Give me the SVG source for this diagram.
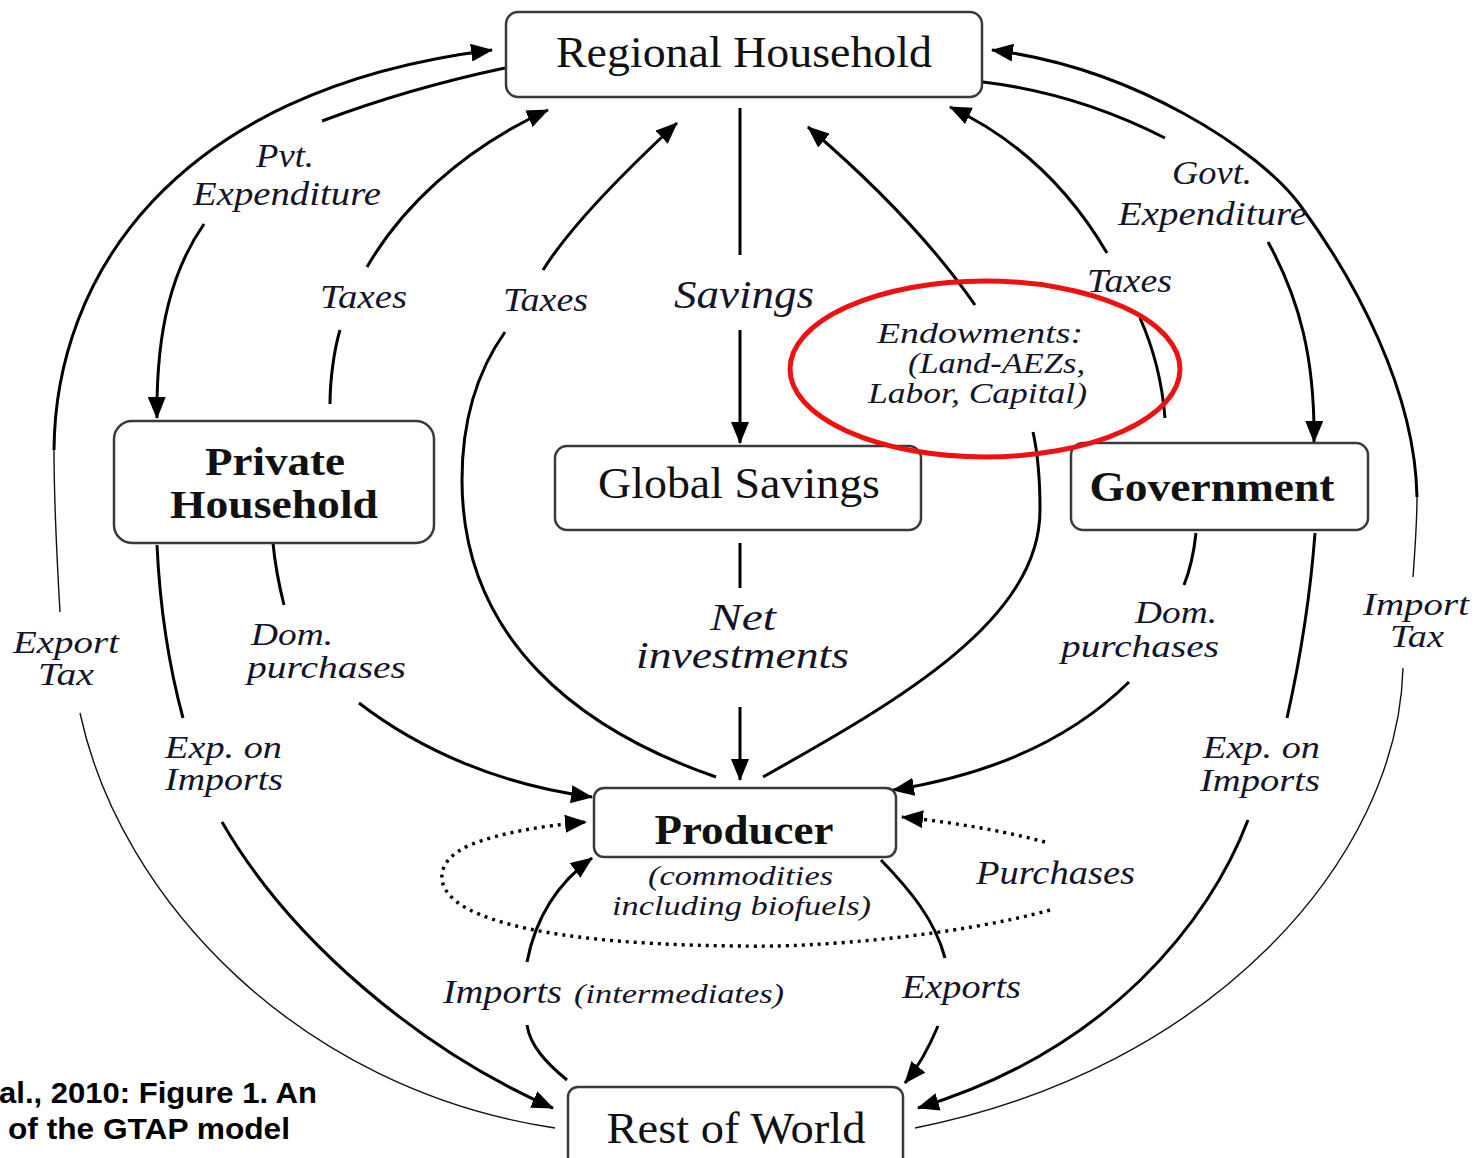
<svg xmlns="http://www.w3.org/2000/svg" width="1477" height="1158" viewBox="0 0 1477 1158">
<style>
.box{fill:#fff;stroke:#3a3a3a;stroke-width:2.5}
.nt{font-family:"Liberation Serif",serif;fill:#111;text-anchor:middle}
.b{font-weight:bold}
.lb{font-family:"Liberation Serif",serif;font-style:italic;fill:#15152a}
.c{fill:none;stroke:#000;stroke-width:3}
.t{fill:none;stroke:#111;stroke-width:1.4}
.d{fill:none;stroke:#000;stroke-width:3.4;stroke-dasharray:3 5}
.cap{font-family:"Liberation Sans",Arial,sans-serif;font-weight:bold;font-size:30px;fill:#000}
</style>
<defs>
<marker id="ah" markerUnits="userSpaceOnUse" markerWidth="22" markerHeight="18" refX="21" refY="9" orient="auto">
<path d="M0,0 L22,9 L0,18 Z" fill="#000"/>
</marker>
</defs>
<rect width="1477" height="1158" fill="#fff"/>

<g id="connectors">
<!-- outer left: Export Tax -->
<path class="t" d="M555 1128 C300 1090,120 900,80 713"/>
<path class="t" d="M60 612 C57 560,54 500,54 450"/>
<path class="c" d="M54 450 C55 280,170 90,492 50" marker-end="url(#ah)"/>
<!-- outer right: Import Tax -->
<path class="t" d="M915 1128 C1210 1070,1398 860,1403 668"/>
<path class="t" d="M1413 577 C1415 550,1417 520,1417 497"/>
<path class="c" d="M1417 497 C1415 390,1355 280,1300 205 C1260 151,1135 68,992 50" marker-end="url(#ah)"/>
<!-- Pvt. Expenditure -->
<path class="c" d="M505 68 Q410 88 322 121"/>
<path class="c" d="M204 224 C172 270,156 330,157 418" marker-end="url(#ah)"/>
<!-- Taxes from Private Household -->
<path class="c" d="M330 404 C330 380,334 350,340 330"/>
<path class="c" d="M367 267 C400 210,460 150,548 110" marker-end="url(#ah)"/>
<!-- Taxes from Producer -->
<path class="c" d="M716 777 C580 730,462 640,462 480 C462 420,478 370,505 332"/>
<path class="c" d="M543 270 C565 235,610 185,677 123" marker-end="url(#ah)"/>
<!-- Savings -->
<path class="c" d="M740 108 L740 255"/>
<path class="c" d="M740 330 L740 443" marker-end="url(#ah)"/>
<!-- Net investments -->
<path class="c" d="M740 543 L740 588"/>
<path class="c" d="M740 707 L740 780" marker-end="url(#ah)"/>
<!-- Endowments -->
<path class="c" d="M763 777 C900 700,1040 620,1040 510 C1040 470,1037 450,1033 432"/>
<path class="c" d="M975 305 C930 240,870 180,808 127" marker-end="url(#ah)"/>
<!-- Taxes from Government -->
<path class="c" d="M1165 418 C1162 380,1152 345,1140 318"/>
<path class="c" d="M1107 253 C1070 190,1020 140,950 107" marker-end="url(#ah)"/>
<!-- Govt. Expenditure -->
<path class="c" d="M983 82 C1050 90,1110 110,1165 138"/>
<path class="c" d="M1268 242 C1300 300,1315 360,1314 442" marker-end="url(#ah)"/>
<!-- Private HH Dom. purchases -->
<path class="c" d="M273 543 C275 565,279 585,284 605"/>
<path class="c" d="M359 703 C420 750,500 785,592 797" marker-end="url(#ah)"/>
<!-- Private HH Exp. on Imports -->
<path class="c" d="M157 545 C160 610,170 670,183 718"/>
<path class="c" d="M222 822 C290 940,420 1050,553 1108" marker-end="url(#ah)"/>
<!-- Government Dom. purchases -->
<path class="c" d="M1196 533 C1194 552,1190 570,1184 585"/>
<path class="c" d="M1129 682 C1070 740,990 775,893 790" marker-end="url(#ah)"/>
<!-- Government Exp. on Imports -->
<path class="c" d="M1315 533 C1310 600,1300 660,1287 718"/>
<path class="c" d="M1248 820 C1210 920,1110 1050,918 1108" marker-end="url(#ah)"/>
<!-- Exports -->
<path class="c" d="M881 860 C910 890,935 920,945 958"/>
<path class="c" d="M938 1026 C930 1045,920 1065,905 1083" marker-end="url(#ah)"/>
<!-- Imports (intermediates) -->
<path class="c" d="M567 1080 C545 1062,530 1045,527 1025"/>
<path class="c" d="M527 962 C535 920,555 885,592 858" marker-end="url(#ah)"/>
<!-- Purchases (dotted) -->
<path class="d" d="M1050 910 C960 935,820 948,740 946 C620 945,520 935,470 910 C430 890,435 860,470 845 C500 833,540 826,586 822" marker-end="url(#ah)"/>
<path class="d" d="M1045 842 C1000 830,950 822,902 817" marker-end="url(#ah)"/>
</g>

<g id="regional-household">
<rect class="box" x="506" y="12" width="476" height="85" rx="12"/>
<text class="nt" x="744" y="67" font-size="44" textLength="376" lengthAdjust="spacingAndGlyphs">Regional Household</text>
</g>
<g id="private-household">
<rect class="box" x="114" y="421" width="320" height="122" rx="18"/>
<text class="nt b" x="275" y="475" font-size="40" textLength="140" lengthAdjust="spacingAndGlyphs">Private</text>
<text class="nt b" x="274" y="518" font-size="40" textLength="208" lengthAdjust="spacingAndGlyphs">Household</text>
</g>
<g id="global-savings">
<rect class="box" x="555" y="446" width="366" height="84" rx="12"/>
<text class="nt" x="739" y="498" font-size="44" textLength="282" lengthAdjust="spacingAndGlyphs">Global Savings</text>
</g>
<g id="government">
<rect class="box" x="1071" y="443" width="297" height="87" rx="12"/>
<text class="nt b" x="1212" y="501" font-size="42" textLength="245" lengthAdjust="spacingAndGlyphs">Government</text>
</g>
<g id="producer">
<rect class="box" x="594" y="788" width="302" height="69" rx="10"/>
<text class="nt b" x="744" y="844" font-size="42" textLength="179" lengthAdjust="spacingAndGlyphs">Producer</text>
</g>
<g id="rest-of-world">
<rect class="box" x="568" y="1087" width="335" height="84" rx="10"/>
<text class="nt" x="736" y="1143" font-size="44" textLength="259" lengthAdjust="spacingAndGlyphs">Rest of World</text>
</g>

<g id="labels">
<text class="lb" x="256" y="167" font-size="33" textLength="58" lengthAdjust="spacingAndGlyphs">Pvt.</text>
<text class="lb" x="193" y="205" font-size="33" textLength="188" lengthAdjust="spacingAndGlyphs">Expenditure</text>
<text class="lb" x="320" y="308" font-size="34" textLength="87" lengthAdjust="spacingAndGlyphs">Taxes</text>
<text class="lb" x="503" y="311" font-size="34" textLength="85" lengthAdjust="spacingAndGlyphs">Taxes</text>
<text class="lb" x="674" y="308" font-size="40" textLength="140" lengthAdjust="spacingAndGlyphs">Savings</text>
<text class="lb" x="877" y="343" font-size="30" textLength="206" lengthAdjust="spacingAndGlyphs">Endowments:</text>
<text class="lb" x="908" y="373" font-size="30" textLength="177" lengthAdjust="spacingAndGlyphs">(Land-AEZs,</text>
<text class="lb" x="868" y="403" font-size="30" textLength="219" lengthAdjust="spacingAndGlyphs">Labor, Capital)</text>
<text class="lb" x="1087" y="292" font-size="34" textLength="85" lengthAdjust="spacingAndGlyphs">Taxes</text>
<text class="lb" x="1172" y="184" font-size="33" textLength="80" lengthAdjust="spacingAndGlyphs">Govt.</text>
<text class="lb" x="1118" y="225" font-size="33" textLength="189" lengthAdjust="spacingAndGlyphs">Expenditure</text>
<text class="lb" x="13" y="653" font-size="31" textLength="106" lengthAdjust="spacingAndGlyphs">Export</text>
<text class="lb" x="38" y="685" font-size="31" textLength="56" lengthAdjust="spacingAndGlyphs">Tax</text>
<text class="lb" x="251" y="645" font-size="31" textLength="82" lengthAdjust="spacingAndGlyphs">Dom.</text>
<text class="lb" x="247" y="678" font-size="31" textLength="159" lengthAdjust="spacingAndGlyphs">purchases</text>
<text class="lb" x="165" y="758" font-size="31" textLength="117" lengthAdjust="spacingAndGlyphs">Exp. on</text>
<text class="lb" x="165" y="790" font-size="31" textLength="118" lengthAdjust="spacingAndGlyphs">Imports</text>
<text class="lb" x="710" y="630" font-size="37" textLength="66" lengthAdjust="spacingAndGlyphs">Net</text>
<text class="lb" x="636" y="668" font-size="37" textLength="213" lengthAdjust="spacingAndGlyphs">investments</text>
<text class="lb" x="1135" y="623" font-size="31" textLength="82" lengthAdjust="spacingAndGlyphs">Dom.</text>
<text class="lb" x="1061" y="657" font-size="31" textLength="158" lengthAdjust="spacingAndGlyphs">purchases</text>
<text class="lb" x="1363" y="615" font-size="31" textLength="106" lengthAdjust="spacingAndGlyphs">Import</text>
<text class="lb" x="1390" y="647" font-size="31" textLength="54" lengthAdjust="spacingAndGlyphs">Tax</text>
<text class="lb" x="1203" y="758" font-size="31" textLength="117" lengthAdjust="spacingAndGlyphs">Exp. on</text>
<text class="lb" x="1200" y="791" font-size="31" textLength="120" lengthAdjust="spacingAndGlyphs">Imports</text>
<text class="lb" x="648" y="885" font-size="28" textLength="185" lengthAdjust="spacingAndGlyphs">(commodities</text>
<text class="lb" x="612" y="915" font-size="28" textLength="259" lengthAdjust="spacingAndGlyphs">including biofuels)</text>
<text class="lb" x="976" y="884" font-size="33" textLength="159" lengthAdjust="spacingAndGlyphs">Purchases</text>
<text class="lb" x="443" y="1003" font-size="33" textLength="119" lengthAdjust="spacingAndGlyphs">Imports</text>
<text class="lb" x="574" y="1003" font-size="28" textLength="210" lengthAdjust="spacingAndGlyphs">(intermediates)</text>
<text class="lb" x="902" y="998" font-size="33" textLength="119" lengthAdjust="spacingAndGlyphs">Exports</text>
</g>

<g id="annotation">
<ellipse cx="985" cy="369" rx="195" ry="88" fill="none" stroke="#ee1111" stroke-width="5"/>
</g>

<g id="caption">
<text class="cap" x="-1" y="1103" textLength="318" lengthAdjust="spacingAndGlyphs">al., 2010: Figure 1. An</text>
<text class="cap" x="8" y="1139" textLength="282" lengthAdjust="spacingAndGlyphs">of the GTAP model</text>
</g>
</svg>
